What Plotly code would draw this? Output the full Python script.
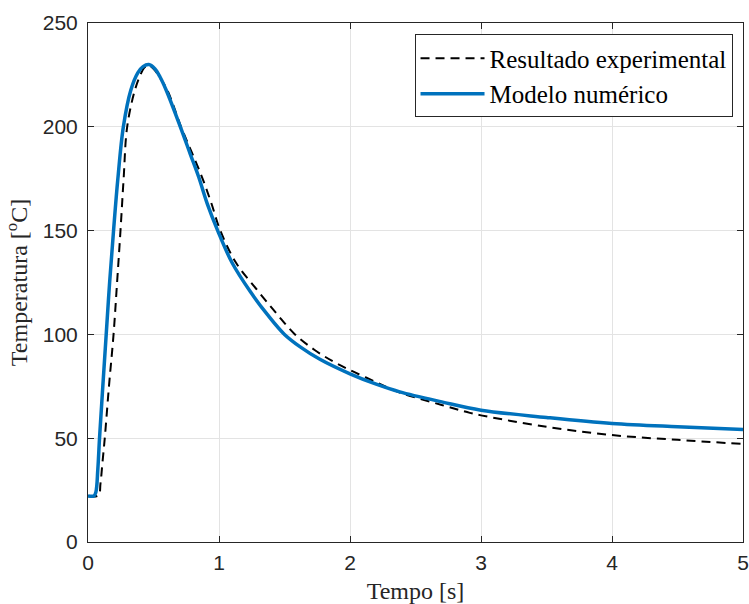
import plotly.graph_objects as go

# Experimental result (dashed black)
t_exp = [0, 0.08, 0.095, 0.11, 0.128, 0.16, 0.195, 0.222, 0.248, 0.272, 0.299, 0.357, 0.40,
         0.43, 0.46, 0.50, 0.55, 0.607, 0.71, 0.79, 0.87, 0.94, 1.01, 1.13, 1.29, 1.44,
         1.58, 1.73, 1.87, 2.0, 2.2, 2.38, 2.7, 2.915, 3.0, 3.5, 4.0, 4.5, 5.0]
T_exp = [22.2, 22.5, 28, 38, 50, 75, 100, 125, 150, 175, 200, 217.5, 225,
         228.5, 229.5, 228, 223.5, 217.5, 200, 188, 175.8, 163.5, 150, 134.5, 121.5, 110,
         100, 92.5, 87, 82.8, 77, 72, 66, 62.2, 61, 55.5, 51.5, 49.2, 47.2]

# Numerical model (solid blue)
t_num = [0, 0.045, 0.06, 0.075, 0.088, 0.11, 0.139, 0.165, 0.195, 0.228, 0.27, 0.326, 0.38,
         0.42, 0.464, 0.51, 0.55, 0.598, 0.705, 0.78, 0.845, 0.91, 0.99, 1.1, 1.24, 1.37,
         1.5, 1.62, 1.77, 2.0, 2.2, 2.38, 2.7, 3.0, 3.5, 4.0, 4.5, 5.0]
T_num = [22.2, 22.2, 24, 35, 50, 72, 100, 125, 150, 175, 200, 217.5, 226,
         229, 230, 228, 224, 217.5, 200, 187, 175.8, 163, 150, 134.5, 120.5, 109.5,
         100, 94, 88, 81, 76, 72.3, 67.5, 63.5, 60, 57.1, 55.5, 54.2]

x_ticks = [0, 1, 2, 3, 4, 5]
y_ticks = [0, 50, 100, 150, 200, 250]

axis_col = "#262626"
grid_col = "#e3e3e3"
serif = "Liberation Serif, Times New Roman, serif"

fig = go.Figure()
fig.add_trace(go.Scatter(
    x=t_exp, y=T_exp, mode="lines", name="Resultado experimental",
    line=dict(color="black", width=2, dash="9px,6px", shape="spline", smoothing=1.0),
))
fig.add_trace(go.Scatter(
    x=t_num, y=T_num, mode="lines", name="Modelo numérico",
    line=dict(color="#0072BD", width=3.5, shape="spline", smoothing=1.0),
))

common = dict(
    showline=True, linecolor=axis_col, linewidth=1, mirror="ticks",
    ticks="inside", ticklen=6, tickcolor=axis_col, tickwidth=1,
    showgrid=True, gridcolor=grid_col, gridwidth=1, zeroline=False,
    automargin=False, ticklabeloverflow="allow",
    tickfont=dict(family="Liberation Sans, Arial", size=21, color=axis_col),
)

fig.update_xaxes(range=[0, 5], tickvals=x_ticks, ticktext=[str(v) for v in x_ticks],
                 ticklabelstandoff=2,
                 title=dict(text="Tempo [s]", font=dict(family=serif, size=24, color=axis_col), standoff=8),
                 **common)
fig.update_yaxes(range=[0, 250], tickvals=y_ticks, ticktext=[str(v) for v in y_ticks],
                 ticklabelstandoff=5,
                 title=dict(text="Temperatura [<sup>o</sup>C]", font=dict(family=serif, size=24, color=axis_col), standoff=8),
                 **common)

fig.update_layout(
    width=749, height=604,
    margin=dict(l=87.5, r=5.5, t=22.5, b=62),
    plot_bgcolor="white", paper_bgcolor="white",
    showlegend=True,
    legend=dict(x=0.984, y=0.978, xanchor="right", yanchor="top",
                bgcolor="white", bordercolor=axis_col, borderwidth=1,
                font=dict(family=serif, size=25, color="black"),
                itemwidth=64, tracegroupgap=0),
)

fig.write_html("out.html", config={"displayModeBar": False},
               post_script="document.body.style.margin='0';document.body.style.overflow='hidden';")
